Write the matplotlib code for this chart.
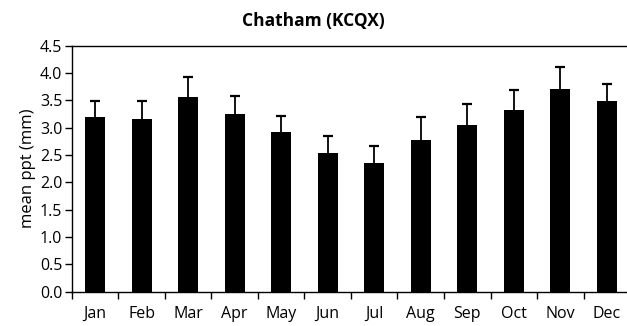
import matplotlib.pyplot as plt
import numpy as np

plt.rcParams['font.family'] = ['Open Sans', 'DejaVu Sans']

months = ['Jan', 'Feb', 'Mar', 'Apr', 'May', 'Jun', 'Jul', 'Aug', 'Sep', 'Oct', 'Nov', 'Dec']
mean_ppt = [3.20, 3.16, 3.56, 3.25, 2.93, 2.54, 2.36, 2.77, 3.05, 3.32, 3.71, 3.49]
err_up = [0.29, 0.33, 0.36, 0.33, 0.28, 0.31, 0.30, 0.43, 0.38, 0.36, 0.40, 0.31]

fig = plt.figure(figsize=(6.27, 3.26), dpi=100)
ax = fig.add_axes([0.1148, 0.105, 0.89, 0.755])

x = np.arange(len(months))
mean_arr = np.array(mean_ppt)
top_arr = mean_arr + np.array(err_up)
ax.bar(x, mean_arr, width=0.43, color='black')
# upper-only error bars: stem plus cap
ax.vlines(x, mean_arr, top_arr, color='black', linewidth=1.3)
ax.plot(x, top_arr, linestyle='none', marker='_', markersize=7,
        markeredgewidth=1.6, color='black')

ax.set_xlim(-0.5, len(months) - 0.5)
ax.set_ylim(0, 4.5)
ticks = np.arange(0, 4.51, 0.5)
ax.set_yticks(ticks)
ax.set_yticklabels([f'{v:.1f}' for v in ticks], fontsize=11.5)
ax.set_xticks(x)
ax.set_xticklabels(months, fontsize=11.5)
ax.set_xticks(np.arange(-0.5, len(months)), minor=True)
ax.tick_params(axis='x', which='major', length=0, pad=10)
ax.tick_params(axis='x', which='minor', length=5, width=1, direction='out')
ax.tick_params(axis='y', length=5, width=1, direction='out', pad=2)

ax.spines['right'].set_visible(False)
for s in ['top', 'left', 'bottom']:
    ax.spines[s].set_linewidth(1)

ax.set_ylabel('mean ppt (mm)', fontsize=12, labelpad=3)
fig.text(0.5, 0.935, 'Chatham (KCQX)', fontsize=12.5, fontweight='bold',
         ha='center', va='center')

fig.savefig('out.png', dpi=100)
